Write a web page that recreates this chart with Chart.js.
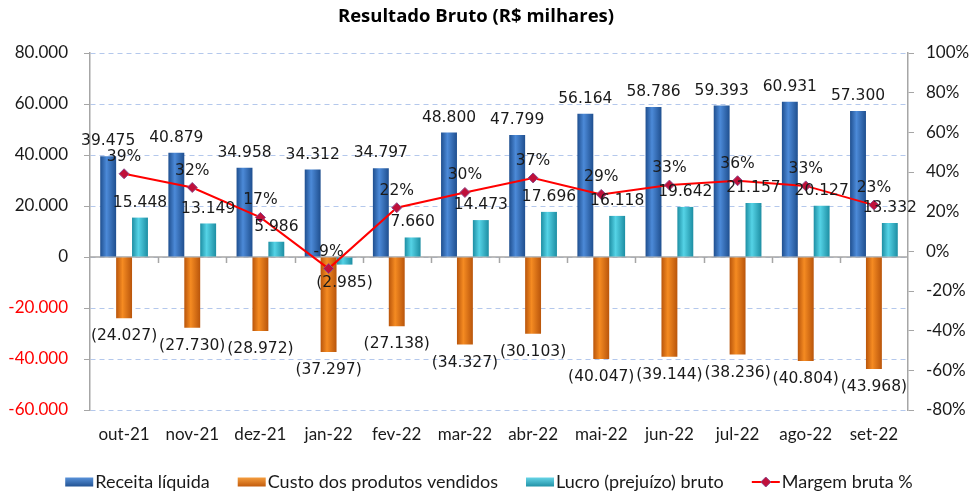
<!DOCTYPE html>
<html>
<head>
<meta charset="utf-8">
<script src="https://cdn.jsdelivr.net/npm/chart.js@4.4.1/dist/chart.umd.min.js"></script>
<style>
  body { margin: 0; background: #fff; }
  #wrap { width: 973px; height: 496px; position: relative; }
</style>
</head>
<body>
<div id="wrap"><canvas id="grafico"></canvas></div>
<script>
// Dados (R$ milhares)
const meses = ['out-21', 'nov-21', 'dez-21', 'jan-22', 'fev-22', 'mar-22', 'abr-22', 'mai-22', 'jun-22', 'jul-22', 'ago-22', 'set-22'];
const receita = [39475, 40879, 34958, 34312, 34797, 48800, 47799, 56164, 58786, 59393, 60931, 57300];
const custo = [-24027, -27730, -28972, -37297, -27138, -34327, -30103, -40047, -39144, -38236, -40804, -43968];
const lucro = [15448, 13149, 5986, -2985, 7660, 14473, 17696, 16118, 19642, 21157, 20127, 13332];
const margem = [39.1, 32.2, 17.1, -8.7, 22.0, 29.7, 37.0, 28.7, 33.4, 35.6, 33.0, 23.3];

const eixoValores = [-60000, 80000, 20000];   // min, max, passo
const eixoMargem = [-80, 100, 20];

const titulo = 'Resultado Bruto (R$ milhares)';
const nomes = ['Receita líquida', 'Custo dos produtos vendidos', 'Lucro (prejuízo) bruto', 'Margem bruta %'];

const fonteEixo = 'Lato';
const fonteRotulo = 'DejaVu Sans';
const catPct = 0.7;

function fmtMil(v) {
  const s = Math.abs(Math.round(v)).toString().replace(/\B(?=(\d{3})+(?!\d))/g, '.');
  return v < 0 ? '(' + s + ')' : s;
}

// gradiente horizontal para simular as colunas 3D
function gradiente(escuro, claro, pos) {
  return function(ctx) {
    const xs = ctx.chart.scales.x;
    if (!xs || ctx.dataIndex === undefined) return claro;
    const w = xs.width / meses.length * catPct / 3;
    const c = xs.getPixelForValue(ctx.dataIndex) + (pos - 1) * w;
    if (!isFinite(c) || !isFinite(w) || w <= 0) return claro;
    const g = ctx.chart.ctx.createLinearGradient(c - w / 2, 0, c + w / 2, 0);
    g.addColorStop(0, escuro);
    g.addColorStop(0.4, claro);
    g.addColorStop(1, escuro);
    return g;
  };
}

const rotulosPlugin = {
  id: 'rotulos',
  afterDatasetsDraw(chart) {
    const ctx = chart.ctx;
    ctx.save();
    ctx.font = '15.5px "' + fonteRotulo + '"';
    ctx.fillStyle = '#1a1a1a';
    ctx.textAlign = 'center';
    ctx.textBaseline = 'middle';
    chart.data.datasets.forEach((ds, i) => {
      const meta = chart.getDatasetMeta(i);
      meta.data.forEach((el, j) => {
        const v = ds.data[j];
        if (i === 3) {
          ctx.fillText(Math.round(v) + '%', el.x, el.y - 17);
        } else if (v >= 0) {
          ctx.fillText(fmtMil(v), el.x, el.y - 15);
        } else {
          ctx.fillText(fmtMil(v), el.x, el.y + 18);
        }
      });
    });
    ctx.restore();
  }
};

const extrasPlugin = {
  id: 'extras',
  beforeDatasetsDraw(chart) {
    // linha do zero com marcas entre categorias
    const ctx = chart.ctx;
    const a = chart.chartArea;
    const y0 = chart.scales.y.getPixelForValue(0);
    const w = (a.right - a.left) / meses.length;
    ctx.save();
    ctx.strokeStyle = '#a6a6a6';
    ctx.lineWidth = 1.5;
    ctx.beginPath();
    ctx.moveTo(a.left, y0);
    ctx.lineTo(a.right, y0);
    for (let i = 1; i < meses.length; i++) {
      const x = Math.round(a.left + i * w) + 0.5;
      ctx.moveTo(x, y0);
      ctx.lineTo(x, y0 + 6);
    }
    ctx.stroke();
    ctx.restore();
  },
  afterDraw(chart) {
    const ctx = chart.ctx;
    ctx.save();
    // título
    ctx.font = 'bold 18.5px "Open Sans"';
    ctx.fillStyle = '#000';
    ctx.textAlign = 'center';
    ctx.textBaseline = 'middle';
    ctx.fillText(titulo, 476, 17);

    // legenda
    ctx.font = '18px "' + fonteEixo + '"';
    const caixa = 28, folga = 2, entre = 28;
    const larg = nomes.map(n => ctx.measureText(n).width);
    const total = larg.reduce((s, l) => s + l, 0) + nomes.length * (caixa + folga) + (nomes.length - 1) * entre;
    let x = 489 - total / 2;
    const y = 482;
    ctx.textAlign = 'left';
    nomes.forEach((n, i) => {
      if (i < 3) {
        const g = ctx.createLinearGradient(0, y - 5, 0, y + 5);
        const ds = chart.data.datasets[i];
        g.addColorStop(0, ds.corClara);
        g.addColorStop(1, ds.corEscura);
        ctx.fillStyle = g;
        ctx.fillRect(x, y - 4.5, caixa, 9);
      } else {
        ctx.strokeStyle = '#ff0000';
        ctx.lineWidth = 2;
        ctx.beginPath();
        ctx.moveTo(x, y);
        ctx.lineTo(x + caixa, y);
        ctx.stroke();
        ctx.fillStyle = '#c0103a';
        ctx.strokeStyle = '#8e4a8a';
        ctx.lineWidth = 1;
        ctx.beginPath();
        ctx.moveTo(x + caixa / 2, y - 5);
        ctx.lineTo(x + caixa / 2 + 5, y);
        ctx.lineTo(x + caixa / 2, y + 5);
        ctx.lineTo(x + caixa / 2 - 5, y);
        ctx.closePath();
        ctx.fill();
        ctx.stroke();
      }
      ctx.fillStyle = '#1a1a1a';
      ctx.fillText(n, x + caixa + folga, y);
      x += caixa + folga + larg[i] + entre;
    });
    ctx.restore();
  }
};

const ctx = document.getElementById('grafico').getContext('2d');
const chart = new Chart(ctx, {
  type: 'bar',
  data: {
    labels: meses,
    datasets: [
      {
        label: nomes[0],
        data: receita,
        backgroundColor: gradiente('#1f4f8f', '#4c8ad8', 0),
        corClara: '#5b95dd', corEscura: '#1f4f8f',
        yAxisID: 'y',
        order: 1
      },
      {
        label: nomes[1],
        data: custo,
        backgroundColor: gradiente('#b9550b', '#f58b22', 1),
        corClara: '#f7a040', corEscura: '#c0580a',
        yAxisID: 'y',
        order: 1
      },
      {
        label: nomes[2],
        data: lucro,
        backgroundColor: gradiente('#1d8ea3', '#55d3e6', 2),
        corClara: '#6ad8ea', corEscura: '#1d8ea3',
        yAxisID: 'y',
        order: 1
      },
      {
        type: 'line',
        label: nomes[3],
        data: margem,
        yAxisID: 'y1',
        borderColor: '#ff0000',
        borderWidth: 2,
        pointStyle: 'rectRot',
        pointRadius: 5,
        pointBackgroundColor: '#c0103a',
        pointBorderColor: '#8e4a8a',
        pointBorderWidth: 1,
        tension: 0,
        order: 0
      }
    ]
  },
  options: {
    responsive: true,
    maintainAspectRatio: false,
    animation: false,
    layout: { padding: { top: 53, bottom: 46, left: 0, right: 0 } },
    datasets: {
      bar: { categoryPercentage: catPct, barPercentage: 1.0 }
    },
    plugins: {
      legend: { display: false },
      title: { display: false },
      tooltip: { enabled: false }
    },
    scales: {
      x: {
        grid: { display: false, drawTicks: false },
        border: { display: false },
        ticks: {
          color: '#1a1a1a',
          font: { family: fonteEixo, size: 17 },
          padding: 14,
          maxRotation: 0
        },
        afterFit(scale) { scale.height = 40; }
      },
      y: {
        position: 'left',
        min: eixoValores[0],
        max: eixoValores[1],
        ticks: {
          stepSize: eixoValores[2],
          padding: 16,
          font: { family: fonteEixo, size: 17 },
          color: (c) => (c.tick && c.tick.value < 0 ? '#ff0000' : '#1a1a1a'),
          callback: (v) => (v === 0 ? '0' : (v < 0 ? '-' : '') + fmtMil(Math.abs(v)))
        },
        grid: {
          color: '#b4c8ec',
          lineWidth: 1,
          tickColor: '#a6a6a6',
          tickLength: 6
        },
        border: { color: '#a6a6a6', width: 1.5, dash: [5, 4] },
        afterFit(scale) { scale.width = 90; }
      },
      y1: {
        position: 'right',
        min: eixoMargem[0],
        max: eixoMargem[1],
        ticks: {
          stepSize: eixoMargem[2],
          padding: 12,
          font: { family: fonteEixo, size: 17 },
          color: '#1a1a1a',
          callback: (v) => v + '%'
        },
        grid: {
          drawOnChartArea: false,
          tickColor: '#a6a6a6',
          tickLength: 6
        },
        border: { color: '#a6a6a6', width: 1.5 },
        afterFit(scale) { scale.width = 65; }
      }
    }
  },
  plugins: [extrasPlugin, rotulosPlugin]
});
</script>
</body>
</html>
